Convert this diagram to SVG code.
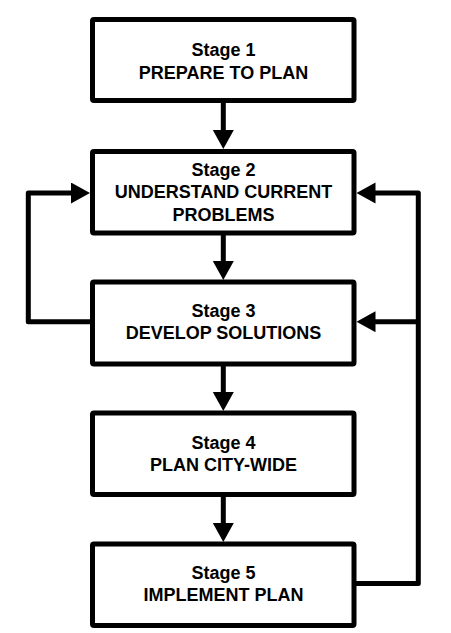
<svg xmlns="http://www.w3.org/2000/svg" width="451" height="633" viewBox="0 0 451 633">
<style>
.box{fill:#fff;stroke:#000;stroke-width:5;stroke-linejoin:round}
.t{font-family:"Liberation Sans",Arial,sans-serif;font-weight:bold;font-size:18px;text-anchor:middle;fill:#000}
.c{fill:none;stroke:#000;stroke-width:5;stroke-linejoin:round;marker-end:url(#ah)}
</style>
<defs>
<marker id="ah" markerUnits="userSpaceOnUse" markerWidth="20" markerHeight="22" refX="9" refY="10.5" orient="auto" viewBox="0 0 20 22">
<path d="M0,0 L19,10.5 L0,21 z" fill="#000"/>
</marker>
</defs>
<rect width="451" height="633" fill="#fff"/>
<g id="connectors">
<path class="c" d="M223.3,101 V139"/>
<path class="c" d="M223.3,233 V270"/>
<path class="c" d="M223.3,364 V401"/>
<path class="c" d="M223.3,494.5 V532"/>
<path class="c" d="M90,321.7 H28.3 V193 H80"/>
<path class="c" d="M356,583.5 H418.3 V193 H366.5"/>
<path class="c" d="M418.3,321.7 H366.5"/>
</g>
<g id="stage1">
<rect class="box" x="92.5" y="19.5" width="261.5" height="81" rx="1.5"/>
<text class="t" x="223.5" y="56">Stage 1</text>
<text class="t" x="223.5" y="79">PREPARE TO PLAN</text>
</g>
<g id="stage2">
<rect class="box" x="92.5" y="151.5" width="261.5" height="81.5" rx="1.5"/>
<text class="t" x="223.5" y="175.7">Stage 2</text>
<text class="t" x="223.5" y="198.3">UNDERSTAND CURRENT</text>
<text class="t" x="223.5" y="220.7">PROBLEMS</text>
</g>
<g id="stage3">
<rect class="box" x="92.5" y="282" width="261.5" height="82" rx="1.5"/>
<text class="t" x="223.5" y="317.3">Stage 3</text>
<text class="t" x="223.5" y="339">DEVELOP SOLUTIONS</text>
</g>
<g id="stage4">
<rect class="box" x="92.5" y="413" width="261.5" height="81.5" rx="1.5"/>
<text class="t" x="223.5" y="449.3">Stage 4</text>
<text class="t" x="223.5" y="470.7">PLAN CITY-WIDE</text>
</g>
<g id="stage5">
<rect class="box" x="92.5" y="544" width="261.5" height="81.5" rx="1.5"/>
<text class="t" x="223.5" y="579.3">Stage 5</text>
<text class="t" x="223.5" y="600.7">IMPLEMENT PLAN</text>
</g>
</svg>
